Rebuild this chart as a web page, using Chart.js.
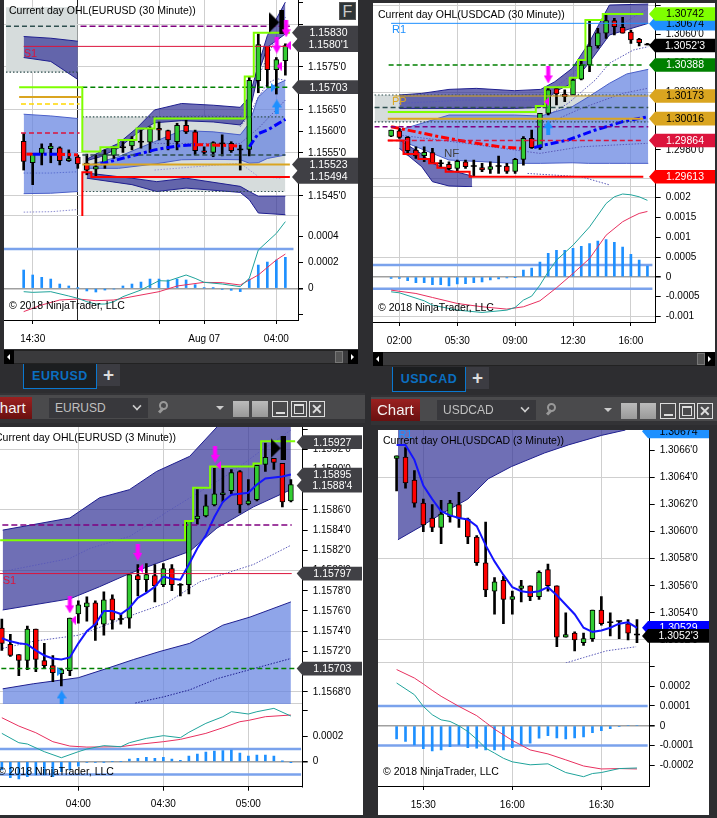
<!DOCTYPE html>
<html><head><meta charset="utf-8">
<script src="https://cdn.jsdelivr.net/npm/chart.js@4"></script>
<style>
html,body{margin:0;padding:0;background:#2d2d30;width:717px;height:818px;overflow:hidden;font-family:"Liberation Sans",Arial,sans-serif}
canvas{position:absolute;display:block}
.b{position:absolute;box-sizing:border-box}
</style></head><body>
<script>
/* ---------- EURUSD 30 minute ---------- */
const eur30Open=[1.15577,1.15527,1.15549,1.1556,1.15562,1.15532,1.1554,1.15526,1.15512,1.15526,1.15544,1.15563,1.15566,1.15576,1.15575,1.15607,1.15602,1.15576,1.15614,1.15599,1.15555,1.15551,1.15572,1.15572,1.15558,1.15558,1.15718,1.15798,1.15744,1.15765];
const eur30Close=[1.1553,1.15549,1.15561,1.15566,1.15532,1.15537,1.15524,1.1551,1.15518,1.15547,1.15561,1.15563,1.15578,1.15576,1.15606,1.15603,1.1558,1.15614,1.15599,1.15555,1.15551,1.15574,1.15572,1.15555,1.15558,1.15719,1.15802,1.15744,1.15767,1.158];
const eur30High=[1.15595,1.15549,1.15571,1.15572,1.15564,1.15557,1.15545,1.15547,1.15545,1.15557,1.15564,1.15576,1.15588,1.15603,1.15611,1.15622,1.15603,1.15619,1.15626,1.15603,1.15564,1.15576,1.15592,1.15576,1.15568,1.15727,1.15827,1.15798,1.15772,1.15804];
const eur30Low=[1.1551,1.15476,1.15522,1.15527,1.15522,1.1553,1.15514,1.15499,1.15496,1.15514,1.15537,1.15551,1.15557,1.15561,1.15551,1.1558,1.15557,1.15557,1.15595,1.15545,1.15547,1.15541,1.15543,1.15551,1.1551,1.15543,1.1569,1.15704,1.15687,1.15731];
const eur30BandLX=[0,3,6];
const eur30DarkLTop=[1.15821,1.15817,1.1581], eur30DarkLBot=[1.15772,1.15763,1.15721];
const eur30LightLTop=[1.1564,1.15636,1.1563], eur30LightLBot=[1.15455,1.15456,1.1546];
const eur30LightLMid=[1.15503,1.15503,1.15506], eur30LowLMid=[1.15412,1.15413,1.15418];
const eur30UpX=[7,8.5,10.5,12.5,14.5,17.5,21,24,25,26,27,29];
const eur30UpTop=[1.15535,1.15553,1.15572,1.15607,1.1565,1.15665,1.15661,1.15656,1.1568,1.15754,1.15823,1.15901];
const eur30UpBot=[1.15532,1.15541,1.15561,1.15595,1.1562,1.15625,1.15622,1.15615,1.15642,1.15735,1.15796,1.15827];
const eur30LightX=[7,10.5,14.5,17.5,21,24,25,26,27,29];
const eur30LightTop=[1.1552,1.15541,1.15576,1.15602,1.15599,1.15592,1.15619,1.1568,1.157,1.15719];
const eur30LightBot=[1.15514,1.15514,1.15524,1.15534,1.15535,1.15534,1.15526,1.15527,1.15537,1.15545];
const eur30LowX=[7,12,14.75,18,24,25,26,29];
const eur30LowTop=[1.15503,1.15491,1.15483,1.15491,1.15472,1.1546,1.15449,1.15449];
const eur30LowBot=[1.15491,1.15476,1.1546,1.15468,1.15458,1.15441,1.1541,1.15406];
const eur30DotAX=[14.75,21,24,26,29], eur30DotAY=[1.15634,1.15638,1.15634,1.15727,1.15866];
const eur30DotBX=[24,25,26,27,28,29], eur30DotBY=[1.15611,1.15638,1.1568,1.15711,1.15723,1.15719];
const eur30DotCX=[14.5,24,26,29], eur30DotCY=[1.15572,1.15572,1.15607,1.15673];
const eur30DotDX=[14.5,24,26,28.5], eur30DotDY=[1.1551,1.15526,1.15495,1.15491];
const eur30MidBlue1X=[1,3.7], eur30MidBlue1Y=[1.15547,1.15547];
const eur30MidRed1X=[0.3,1], eur30MidRed1Y=[1.15547,1.15547];
const eur30MidRed2X=[3.7,6], eur30MidRed2Y=[1.15547,1.15545];
const eur30MidBlue2X=[8.5,10,12,14.5,17,19], eur30MidBlue2Y=[1.15524,1.15532,1.15543,1.15557,1.15566,1.15569];
const eur30MidRed3X=[19,21.5,24], eur30MidRed3Y=[1.15569,1.15568,1.15566];
const eur30MidBlue3X=[25,26,27,29], eur30MidBlue3Y=[1.15564,1.15595,1.15603,1.15628];
const eur30LimeX=[-0.5,6.5,8.5,10.5,12.5,14.5,24.5,25.5,29.5], eur30LimeY=[1.15703,1.15553,1.15563,1.1558,1.15607,1.1563,1.15728,1.1583,1.1583];
const eur30RedX=[6.5,6.5,7.5,29.5], eur30RedY=[1.154,1.15505,1.15494,1.15494];
const eur30MacdX=[0,1,3,5,6,7,8,9,10,11,13,15,16,18,19,20,22,24,25,26,28,29];
const eur30Macd=[-0.0000255,-0.0000306,-0.0000255,-0.0000586,-0.0000764,-0.000102,-0.00012,-0.00012,-0.000102,-0.0000637,-0.0000127,0.0000586,0.000056,0.000102,0.0000764,0.0000459,0.0000331,0.0000127,0.0000764,0.000293,0.00042,0.00051];
const eur30SignalX=[0,2,4,6,8,10,12,15,17,20,22,24,26,28,29];
const eur30Signal=[-0.000178,-0.000127,-0.0000892,-0.0000815,-0.0000943,-0.0000892,-0.0000637,-0.0000255,0.0000178,0.0000459,0.0000433,0.0000255,0.000102,0.000217,0.000262];
const eur30Hist=[0.00014,0.000102,0.000084,0.000071,0.000033,0.000018,0.000001,-0.00002,-0.000028,-0.000013,-0.000005,0.000018,0.000033,0.000048,0.000071,0.000071,0.000064,0.000071,0.000064,0.000028,0.000003,0.000001,-0.000008,-0.000015,-0.000025,0.000071,0.000178,0.000201,0.000217,0.000237];
const eur30TagValues=[1.1583,1.15801,1.15703,1.15523,1.15494];
const eur30TagLabels=["1.15830","1.1580'1","1.15703","1.15523","1.15494"];
const eur30XTicks=[1,6,15,20,28], eur30XLabels=["14:30","","","Aug 07","04:00"];

/* ---------- USDCAD 30 minute ---------- */
const cad30Open=[1.29895,1.29932,1.29886,1.29798,1.29759,1.2978,1.29706,1.29699,1.29671,1.29717,1.29687,1.29676,1.29664,1.29687,1.29687,1.2965,1.29734,1.29879,1.29814,1.30053,1.30224,1.30187,1.3018,1.30289,1.30388,1.3052,1.30608,1.30696,1.30649,1.30617,1.30566,1.30531];
const cad30Close=[1.29937,1.29886,1.29794,1.29757,1.29782,1.2971,1.29706,1.29669,1.2972,1.29683,1.29687,1.2966,1.29683,1.29687,1.2965,1.29734,1.29879,1.29814,1.30053,1.30215,1.30187,1.30168,1.30284,1.30388,1.3052,1.30612,1.30696,1.30654,1.30608,1.30562,1.30543,1.30531];
const cad30High=[1.29937,1.29949,1.29891,1.29821,1.29821,1.2981,1.29729,1.29717,1.29729,1.29729,1.29729,1.29706,1.29717,1.29757,1.29706,1.29741,1.29891,1.29937,1.30053,1.30233,1.30226,1.30215,1.30296,1.30423,1.30696,1.30643,1.30747,1.30712,1.30719,1.30631,1.30573,1.30538];
const cad30Low=[1.29891,1.29879,1.29764,1.29741,1.29717,1.29706,1.29678,1.2966,1.29648,1.29671,1.29613,1.29648,1.29636,1.29636,1.29636,1.29636,1.29694,1.2981,1.29803,1.30041,1.30111,1.30134,1.3018,1.30284,1.30342,1.30504,1.30573,1.30596,1.30608,1.30538,1.3052,1.30527];
const cad30UpX=[1,3.7,7,10.3,14.9,18.1,19.8,21.9,23.9,26.4,31.1];
const cad30UpTop=[1.3018,1.30191,1.30219,1.30226,1.3021,1.30219,1.30272,1.30365,1.30538,1.30804,1.30811];
const cad30UpBot=[1.30087,1.30087,1.30087,1.30087,1.30087,1.30094,1.30203,1.30261,1.304,1.30596,1.30677];
const cad30LightTopX=[1,7,14.9,18.1,21.9,23.9,26.4,28.5,31.1];
const cad30LightTop=[1.29937,1.30041,1.30041,1.30034,1.30099,1.30168,1.30261,1.30326,1.30358];
const cad30LightBot=[1.29868,1.29729,1.29706,1.29706,1.2971,1.29706,1.29706,1.29706,1.29706];
const cad30LowX=[1,3.7,5,7,9.8];
const cad30LowTop=[1.29868,1.29771,1.29706,1.2966,1.29618];
const cad30LowBot=[1.2981,1.29683,1.29579,1.29549,1.29544];
const cad30DotAX=[1,9,18,22,26.4,31.1], cad30DotAY=[1.30122,1.30145,1.30145,1.3033,1.3062,1.3078];
const cad30DotBX=[19,21.4,24.7,26.4,29.3,31.1], cad30DotBY=[1.30041,1.30122,1.30284,1.304,1.30492,1.30515];
const cad30DotCX=[1,9,18,23,31], cad30DotCY=[1.29902,1.29845,1.29775,1.29821,1.29845];
const cad30DotDX=[18.5,23,28,31], cad30DotDY=[1.29972,1.30087,1.30191,1.30226];
const cad30DotEX=[16.5,23,26.5], cad30DotEY=[1.29636,1.29613,1.29555];
const cad30MidRedX=[0,2.9,5.8,9.1,13.2,15.7], cad30MidRedY=[1.2996,1.29926,1.29891,1.29856,1.29821,1.2981];
const cad30MidBlueX=[17.3,18.1,21.4,24.7,28,31.1], cad30MidBlueY=[1.29815,1.29828,1.29868,1.29937,1.29995,1.3003];
const cad30LimeX=[-0.4,17.5,18.6,21.6,22.6,23.5,25.6,30.5], cad30LimeY=[1.30062,1.30103,1.30233,1.303,1.30423,1.307,1.30742,1.30742];
const cad30RedX=[-0.4,1.5,3.3,4.6,5.6,6.6,9.5,30.5], cad30RedY=[1.29864,1.29771,1.29736,1.29706,1.29676,1.29648,1.29613,1.29613];
const cad30MacdX=[0,1,4,5,8,11,14,15,16,17,18,19,20,22,24,26,27,28,29,30,31];
const cad30Macd=[-0.000378,-0.000403,-0.000605,-0.000714,-0.00084,-0.000899,-0.00084,-0.000773,-0.000588,-0.000487,-0.00021,0.000126,0.00042,0.000798,0.00126,0.00185,0.00202,0.00209,0.00207,0.00202,0.00193];
const cad30SignalX=[0,3,5,8,11,14,16,18,20,22,24,26,28,29,30,31];
const cad30Signal=[-0.000336,-0.00042,-0.000521,-0.000672,-0.000756,-0.000815,-0.000756,-0.000605,-0.000277,0.000084,0.000462,0.00105,0.00139,0.0015,0.0016,0.00165];
const cad30Hist=[-0.000042,-0.000042,-0.0001,-0.00015,-0.00015,-0.0002,-0.0002,-0.00023,-0.00018,-0.00017,-0.00015,-0.00013,-0.00008,-0.00005,-0.00003,-0.00001,0.00017,0.00022,0.00037,0.00059,0.00067,0.00067,0.00072,0.00077,0.00084,0.0009,0.00094,0.00087,0.00075,0.00057,0.00042,0.00027];
const cad30TagValues=[1.30674,1.30742,1.30388,1.30173,1.30016,1.29864,1.29613,1.30523];
const cad30TagLabels=["1.30674","1.30742","1.30388","1.30173","1.30016","1.29864","1.29613","1.3052'3"];
const cad30XTicks=[1,8,15,22,29], cad30XLabels=["02:00","05:30","09:00","12:30","16:00"];

/* ---------- EURUSD 3 minute ---------- */
const eur3Open=[1.15743,1.15727,1.15717,1.15711,1.15742,1.15711,1.15706,1.15698,1.15701,1.15757,1.15764,1.15768,1.15747,1.15772,1.15752,1.15753,1.15795,1.15791,1.15795,1.15786,1.15802,1.15786,1.15786,1.15851,1.15854,1.15865,1.15875,1.15879,1.15898,1.15866,1.1587,1.15905,1.15911,1.15906,1.15869];
const eur3Close=[1.15728,1.15716,1.15711,1.15742,1.15712,1.15706,1.15699,1.15702,1.15753,1.15766,1.15768,1.15746,1.15771,1.15751,1.15752,1.15796,1.15791,1.15796,1.15785,1.15802,1.15786,1.15786,1.15849,1.15854,1.15864,1.15876,1.15877,1.15897,1.15865,1.15869,1.15904,1.15912,1.15907,1.15868,1.15885];
const eur3High=[1.15752,1.15737,1.15717,1.15745,1.15742,1.15728,1.15716,1.15703,1.15753,1.1577,1.15774,1.1577,1.15779,1.15776,1.15757,1.15796,1.15806,1.15807,1.15806,1.15807,1.15806,1.15787,1.15849,1.1588,1.15875,1.15901,1.15901,1.159,1.15899,1.1589,1.15904,1.15926,1.15911,1.15906,1.1589];
const eur3Low=[1.15721,1.15715,1.15696,1.15702,1.157,1.15703,1.1569,1.15686,1.15696,1.15748,1.1575,1.15731,1.15736,1.15742,1.15747,1.15743,1.15775,1.15779,1.15769,1.15784,1.1578,1.15775,1.15777,1.15846,1.15853,1.15864,1.15868,1.15876,1.15857,1.15865,1.15869,1.15898,1.159,1.15863,1.15868];
const eur3BlueMA=[1.15733,1.1573,1.15728,1.15727,1.15721,1.15716,1.15713,1.15712,1.15714,1.15728,1.1574,1.15747,1.1576,1.1576,1.15757,1.15763,1.15773,1.15778,1.15784,1.15794,1.15792,1.15791,1.15806,1.15822,1.15835,1.15853,1.15868,1.15875,1.15876,1.15877,1.15885,1.15891,1.15892,1.15893,1.15895];
const eur3DarkX=[0.1,8,11.5,15,18.2,22.1,25.3,29.6,34];
const eur3DarkTop=[1.1584,1.15852,1.15872,1.1588,1.15898,1.15913,1.15942,1.1598,1.16];
const eur3DarkBot=[1.15761,1.15772,1.15784,1.15797,1.15807,1.15819,1.15842,1.15863,1.1588];
const eur3DotAX=[0.1,8,10.4,15.1,19.8,23.3,27.2,30.4,34], eur3DotAY=[1.15799,1.15812,1.15822,1.15834,1.1586,1.15878,1.15898,1.15918,1.15939];
const eur3DotBX=[0.1,3.7,9,16,19.4,23.3,29.6,34], eur3DotBY=[1.15723,1.1573,1.15736,1.15758,1.15768,1.15789,1.15806,1.15825];
const eur3LightX=[0.1,3.7,9,12.3,15.5,18.6,22.1,26,29.2,34];
const eur3LightTop=[1.15683,1.15688,1.15694,1.15703,1.15712,1.1572,1.15728,1.15746,1.15754,1.15769];
const eur3LightBot=[1.1566,1.1566,1.1566,1.1566,1.1566,1.1566,1.1566,1.1566,1.1566,1.1566];
const eur3DotCX=[15.7,19,22.1,25.3,29.2,34], eur3DotCY=[1.15669,1.15675,1.15682,1.15693,1.15702,1.15713];
const eur3LimeX=[-0.2,21.55,22.5,24.5,29.6,30.5,34.5], eur3LimeY=[1.1583,1.15849,1.15882,1.15903,1.15906,1.15928,1.15928];
const eur3MacdX=[0,2,3,5,7,9,10,12,14,15,17,19,21,22,24,26,27,29,30,32,34];
const eur3Macd=[0.000221,0.000148,0.000138,0.000078,0.000031,0.000078,0.000099,0.000125,0.000117,0.000148,0.000182,0.000203,0.000187,0.000229,0.000299,0.000351,0.00039,0.000372,0.00039,0.000416,0.000356];
const eur3SignalX=[0,2,4,6,8,10,14,16,19,21,24,26,28,29,31,34];
const eur3Signal=[0.000343,0.000278,0.000226,0.000156,0.000122,0.000114,0.000117,0.000135,0.000156,0.000174,0.000221,0.000265,0.000312,0.000322,0.000351,0.000364];
const eur3Hist=[-0.000065,-0.000125,-0.000135,-0.000117,-0.000104,-0.000104,-0.000117,-0.000078,-0.000065,-0.000034,-0.000005,-0.000005,-0.000003,0,0,0.000021,0.000026,0.000034,0.000026,0.000034,0.000021,0.00001,0.000044,0.00006,0.000075,0.000083,0.000086,0.000091,0.000068,0.000044,0.000052,0.000052,0.000044,0.000003,-0.000008];
const eur3TagValues=[1.15927,1.15895,1.15884,1.15797,1.15703];
const eur3TagLabels=["1.15927","1.15895","1.1588'4","1.15797","1.15703"];
const eur3XTicks=[9,19,29], eur3XLabels=["04:00","04:30","05:00"];

/* ---------- USDCAD 3 minute ---------- */
const cad3Open=[1.30654,1.30655,1.30638,1.30621,1.3061,1.30603,1.30611,1.3062,1.30609,1.30596,1.30577,1.30556,1.30564,1.3055,1.30558,1.3056,1.30552,1.30572,1.3056,1.30522,1.30525,1.30518,1.30521,1.30542,1.30533,1.30534,1.30532,1.30524];
const cad3Close=[1.30656,1.30636,1.30621,1.30605,1.30603,1.30613,1.30621,1.3061,1.30596,1.30577,1.30557,1.30563,1.3055,1.30552,1.3056,1.30552,1.3057,1.3056,1.30522,1.30524,1.3052,1.30521,1.30542,1.30532,1.30533,1.30534,1.30525,1.30524];
const cad3High=[1.30656,1.30662,1.30645,1.30624,1.3062,1.30623,1.30623,1.30629,1.3061,1.30597,1.30607,1.30566,1.30567,1.30556,1.30564,1.3056,1.30571,1.30576,1.3056,1.3054,1.30526,1.30525,1.30542,1.30552,1.3054,1.30534,1.30535,1.30535];
const cad3Low=[1.3063,1.30632,1.30618,1.306,1.306,1.30591,1.30607,1.30603,1.30591,1.30575,1.30552,1.30539,1.30532,1.30539,1.30548,1.30549,1.3055,1.30556,1.30515,1.30522,1.30512,1.30516,1.30519,1.30531,1.30523,1.30521,1.3052,1.30518];
const cad3BlueMA=[1.30664,1.30664,1.30653,1.30634,1.30624,1.30615,1.30612,1.3061,1.30609,1.30604,1.3059,1.30578,1.30568,1.30559,1.30556,1.30555,1.30556,1.30559,1.30553,1.30546,1.30539,1.30529,1.30526,1.30527,1.30529,1.30532,1.30533,1.30529];
const cad3DarkX=[0.15,2.8,5,8,10.3,12.9,16.6,19.3,23,25.7];
const cad3DarkTop=[1.3069,1.3069,1.3069,1.3069,1.3069,1.3069,1.3069,1.3069,1.3069,1.3069];
const cad3DarkBot=[1.30594,1.30604,1.30613,1.30624,1.30639,1.30648,1.30658,1.30664,1.30671,1.30675];
const cad3DotX=[19,21,23.6,26.9], cad3DotY=[1.30503,1.30507,1.30512,1.30515];
const cad3MacdX=[0,2,3,4,5,6,7,8,9,10,11,12,13,15,17,19,21,22,23,25,27];
const cad3Macd=[0.000216,0.000157,0.000098,0.000056,0.00003,0.000022,0,-0.000029,-0.000068,-0.000113,-0.000138,-0.000164,-0.000182,-0.000197,-0.000192,-0.000236,-0.000257,-0.000241,-0.000236,-0.000216,-0.000213];
const cad3SignalX=[0,2,3,4,5,7,9,10,11,13,15,17,19,21,23,25,27];
const cad3Signal=[0.000284,0.000241,0.000211,0.000179,0.000149,0.000098,0.000051,0.000017,-0.000017,-0.000074,-0.000122,-0.000142,-0.000172,-0.000203,-0.000218,-0.000216,-0.000218];
const cad3Hist=[-0.000066,-0.000079,-0.000096,-0.000116,-0.000127,-0.000122,-0.000105,-0.000096,-0.00011,-0.000113,-0.000122,-0.000122,-0.000122,-0.00011,-0.000096,-0.000088,-0.000062,-0.00005,-0.000061,-0.000066,-0.000061,-0.000056,-0.000035,-0.000025,-0.000015,-0.000005,0,0];
const cad3TagValues=[1.30674,1.30529,1.30523];
const cad3TagLabels=["1.30674","1.30529","1.3052'3"];
const cad3XTicks=[3,13,23], cad3XLabels=["15:30","16:00","16:30"];

/* ---------- helpers ---------- */
const FONT='"Liberation Sans",Arial,sans-serif';
const C={dark:'rgba(50,50,150,.7)',light:'rgba(100,130,225,.72)',edge:'#1f1f8f',dot:'#5a5ab8',grey:'#d6dcdc',slate:'#2f4f4f',lime:'#7fff00',gold:'#daa520',crim:'#dc143c',green:'#008000',purple:'#800080',blue:'#0000ff',red:'#ff0000'};
const pts=(x,y)=>x.map((v,i)=>({x:v,y:y[i]}));
const line=(x,y,o)=>Object.assign({type:'line',data:pts(x,y),pointRadius:0,borderWidth:1,fill:false,borderColor:'#000',tension:0},o||{});
const band=(x,t,b,fillC,edge)=>[
 line(x,t,{fill:'+1',backgroundColor:fillC,borderColor:edge||'transparent'}),
 line(x,b,{borderColor:edge||'transparent'})];
const dotted=(x,y,col)=>line(x,y,{borderColor:col||C.dot,borderDash:[1.5,1.5],borderWidth:1});
const level=(a,b,y,col,w,dash)=>line([a,b],[y,y],{borderColor:col,borderWidth:w||1,borderDash:dash||[]});
function candles(o,h,l,c){
  const idx=o.map((_,i)=>i), real=idx.filter(i=>o[i]!==c[i]), doji=idx.filter(i=>o[i]===c[i]);
  return [
   {type:'bar',grouped:false,barThickness:2,backgroundColor:'#000',data:idx.map(i=>({x:i,y:[l[i],h[i]]}))},
   {type:'bar',grouped:false,barThickness:5,borderWidth:1,borderColor:'#000',borderSkipped:false,
    backgroundColor:real.map(i=>c[i]>o[i]?'#32cd32':'#ff0000'),data:real.map(i=>({x:i,y:[o[i],c[i]]}))},
   {type:'line',showLine:false,pointStyle:'line',pointRadius:3,pointBorderWidth:1.5,pointBorderColor:'#000',data:doji.map(i=>({x:i,y:o[i]}))}
  ];
}
function mk(w,h,draw){const c=document.createElement('canvas');c.width=w;c.height=h;draw(c.getContext('2d'),w,h);return c;}
const arrowDown=mk(9,17,(g,w,h)=>{g.fillStyle='#ff00ff';g.fillRect(2.5,0,4,10);g.beginPath();g.moveTo(0,9);g.lineTo(9,9);g.lineTo(4.5,17);g.fill();});
const arrowUp=mk(10,15,(g,w,h)=>{g.fillStyle='#1e90ff';g.fillRect(3,7,4,8);g.beginPath();g.moveTo(0,8);g.lineTo(10,8);g.lineTo(5,0);g.fill();});
const triLeft=mk(5,9,(g)=>{g.fillStyle='#ff00ff';g.beginPath();g.moveTo(5,0);g.lineTo(5,9);g.lineTo(0,4.5);g.fill();});
const triRight=mk(5,9,(g)=>{g.fillStyle='#1e90ff';g.beginPath();g.moveTo(0,0);g.lineTo(0,9);g.lineTo(5,4.5);g.fill();});
const bowtie=mk(15,24,(g)=>{g.fillStyle='#000';g.beginPath();g.moveTo(0,2);g.lineTo(0,22);g.lineTo(10,12);g.fill();g.fillRect(10,0,5,24);});
const mark=(x,y,img)=>({type:'line',showLine:false,pointStyle:img,pointRadius:5,data:pts(x,y)});

function box(x,y,w,h,css,text){const d=document.createElement('div');d.className='b';
 d.style.cssText+=`left:${x}px;top:${y}px;width:${w}px;height:${h}px;`+(css||'');if(text!==undefined)d.textContent=text;document.body.appendChild(d);return d;}
function white(x,y,w,h){box(x,y,w,h,'background:#fff;');}
white(4,0,354,349);white(373,3,342,349);white(0,427,363,388);white(378,430,331,385);

const noPad=a=>{a.paddingTop=0;a.paddingBottom=0;a.paddingLeft=0;a.paddingRight=0;};
function chart(p){
  const c=document.createElement('canvas');c.width=p.w;c.height=p.h;c.style.left=p.left+'px';c.style.top=p.top+'px';
  c.style.width=p.w+'px';c.style.height=p.h+'px';
  document.body.appendChild(c);
  p.ds.forEach((d,i)=>d.order=p.ds.length-i);
  const near=(arr,v)=>(arr||[]).some(m=>Math.abs(m-v)<1e-9);
  const overlay={id:'overlay',afterDraw(ch){
    const g=ch.ctx,sx=ch.scales.x,sy=ch.scales.y;g.save();
    (p.texts||[]).forEach(t=>{g.font=(t.size||10)+'px '+FONT;g.fillStyle=t.color||'#000';g.textAlign='left';g.textBaseline='middle';
      const px=t.px!==undefined?t.px:sx.getPixelForValue(t.x),py=t.py!==undefined?t.py:sy.getPixelForValue(t.y);g.fillText(t.text,px,py);});
    (p.tags||[]).forEach(t=>{const y=sy.getPixelForValue(t.v),hh=t.h||6.8,x0=p.tagTip,x1=p.tagRight,x2=x0+6;
      g.fillStyle=t.bg;g.beginPath();g.moveTo(x0,y);g.lineTo(x2,y-hh);g.lineTo(x1,y-hh);g.lineTo(x1,y+hh);g.lineTo(x2,y+hh);g.closePath();g.fill();
      g.font='10.5px '+FONT;g.fillStyle=t.fg;g.textAlign='center';g.textBaseline='middle';g.fillText(t.label,(x2+x1)/2,y+0.5);});
    g.restore();}};
  new Chart(c,{type:'bar',data:{datasets:p.ds},plugins:[overlay],options:{
    responsive:false,animation:false,devicePixelRatio:1,events:[],
    layout:{padding:0,autoPadding:false},
    plugins:{legend:{display:false},tooltip:{enabled:false},title:{display:false}},
    scales:{
      x:{type:'linear',offset:false,position:'bottom',min:p.xMin,max:p.xMax,
        afterBuildTicks:a=>{a.ticks=p.xTicks.map(v=>({value:v}));},
        afterFit:a=>{a.height=p.xH;noPad(a);},
        border:{display:true,color:p.xBorder,width:p.xBorderW||1},
        grid:{offset:false,drawTicks:!!p.xLabels,tickLength:4,
          color:x=>x.tick&&x.tick.value===p.session?'#222':'#cfcfcf',lineWidth:1,
          tickColor:x=>x.tick&&x.tick.value===p.session?'transparent':'#000'},
        ticks:{display:!!p.xLabels,autoSkip:false,maxRotation:0,padding:p.xPad||7,color:'#000',font:{family:FONT,size:10},
          callback:(v,i)=>p.xLabels?p.xLabels[i]:''}},
      y:{type:'linear',position:'right',min:p.yMin,max:p.yMax,beginAtZero:false,
        afterBuildTicks:a=>{a.ticks=p.yTicks.map(v=>({value:v}));},
        afterFit:a=>{a.width=p.yW;noPad(a);},
        border:{display:true,color:'#000',width:1},
        grid:{tickLength:5,tickColor:'#000',
          color:x=>x.tick&&p.zero&&x.tick.value===0?'#a0a0a0':(x.tick&&near(p.yMajor,x.tick.value)?'#cfcfcf':'transparent'),
          lineWidth:x=>x.tick&&p.zero&&x.tick.value===0?1.5:1},
        ticks:{autoSkip:false,padding:5,color:'#000',font:{family:FONT,size:10},
          callback:v=>near(p.yHideLabel,v)?'':p.fmt(v)}}
    }}});
}
const priceFmt=v=>v.toFixed(4)+"'0";
const macdFmt=v=>String(v);
const tagSet=(vals,labels,styles)=>vals.map((v,i)=>Object.assign({v,label:labels[i]},styles[i]));
const GREY={bg:'#404045',fg:'#fff'};
function macdDs(xLo,xHi,hlines,mx,my,sx,sy,hist){
  return [
   ...hlines.map(v=>line([xLo,xHi],[v,v],{borderColor:'#7aa2ec',borderWidth:2.5})),
   {type:'bar',grouped:false,barThickness:2,backgroundColor:'#1e90ff',data:hist.map((v,i)=>({x:i,y:v}))},
   line(sx,sy,{borderColor:'#e8305f'}),
   line(mx,my,{borderColor:'#1fa39b'})
  ];
}

/* ---------- EURUSD 30 ---------- */
chart({left:4,top:0,w:354,h:216,xMin:-2.18,xMax:30.4,yMin:1.15403,yMax:1.15906,xH:0,yW:60,xBorder:'#cfcfcf',xBorderW:2,session:6,
 xTicks:eur30XTicks,yTicks:[1.1545,1.155,1.1555,1.156,1.1565,1.157,1.1575,1.158,1.1585,1.159],yMajor:[1.1545,1.1555,1.1565,1.1575,1.1585],yHideLabel:[1.159,1.1585],fmt:priceFmt,
 tagTip:288,tagRight:355,
 tags:tagSet(eur30TagValues,eur30TagLabels,[GREY,GREY,GREY,GREY,GREY]),
 texts:[{text:'Current day OHL(EURUSD (30 Minute))',px:5,py:11,size:10.5},{text:'S1',x:0,y:1.15781,color:C.crim,size:11}],
 ds:[
  ...band([-1.96,6],[1.15889,1.15889],[1.15738,1.15738],C.grey),
  ...band([6.5,29],[1.15634,1.15634],[1.1546,1.1546],C.grey),
  ...band(eur30BandLX,eur30LightLTop,eur30LightLBot,C.light,'#4a5fc8'),
  ...band(eur30BandLX,eur30DarkLTop,eur30DarkLBot,C.dark,C.edge),
  dotted(eur30BandLX,eur30LightLMid,'#5a6fd0'),dotted(eur30BandLX,eur30LowLMid,'#8a8ad0'),
  ...band(eur30LightX,eur30LightTop,eur30LightBot,C.light,'#4a5fc8'),
  ...band(eur30UpX,eur30UpTop,eur30UpBot,C.dark,C.edge),
  ...band(eur30LowX,eur30LowTop,eur30LowBot,C.dark,C.edge),
  dotted(eur30DotAX,eur30DotAY),dotted(eur30DotBX,eur30DotBY),dotted(eur30DotCX,eur30DotCY),dotted(eur30DotDX,eur30DotDY,'#9a9ad8'),
  ...candles(eur30Open,eur30High,eur30Low,eur30Close),
  line(eur30MidRed1X,eur30MidRed1Y,{borderColor:C.red,borderWidth:3,borderDash:[8,3,3,3]}),
  line(eur30MidBlue1X,eur30MidBlue1Y,{borderColor:C.blue,borderWidth:3,borderDash:[8,3,3,3]}),
  line(eur30MidRed2X,eur30MidRed2Y,{borderColor:C.red,borderWidth:3,borderDash:[8,3,3,3]}),
  line(eur30MidBlue2X,eur30MidBlue2Y,{borderColor:C.blue,borderWidth:3,borderDash:[8,3,3,3]}),
  line(eur30MidRed3X,eur30MidRed3Y,{borderColor:C.red,borderWidth:3,borderDash:[8,3,3,3]}),
  line(eur30MidBlue3X,eur30MidBlue3Y,{borderColor:C.blue,borderWidth:3,borderDash:[8,3,3,3]}),
  level(-1.96,6,1.15845,C.slate,1.5,[5,3]),level(6.3,29.5,1.15845,C.purple,1.5,[6,3]),
  level(-1.96,6,1.15738,C.slate,1.2,[1.5,2]),level(0,29.5,1.15798,C.crim,1),
  level(-0.3,6.2,1.15664,'#ffd700',1.5,[5,3]),level(-0.5,6.4,1.1568,C.gold,2),level(-0.3,6.2,1.15596,C.crim,1.5,[5,3]),
  level(6.5,29.5,1.15703,C.green,1.5,[5,3]),level(6.5,29,1.15634,C.slate,1.2,[1.5,2]),level(6.5,29,1.15545,C.slate,1.5,[5,3]),level(6.5,29,1.1546,C.slate,1.2,[1.5,2]),
  level(6.5,29.5,1.15523,C.gold,2),
  line(eur30RedX,eur30RedY,{borderColor:C.red,borderWidth:2,stepped:'before'}),
  line(eur30LimeX,eur30LimeY,{borderColor:C.lime,borderWidth:2,stepped:'before'}),
  mark([28.05],[1.15854],bowtie),mark([29.08,28.05],[1.15839,1.15801],arrowDown),mark([29.3,28.3],[1.158,1.15752],triLeft),mark([28.05],[1.15657],arrowUp),mark([27.7],[1.15702],triRight)
 ]});
chart({left:4,top:216,w:354,h:133,xMin:-2.18,xMax:30.4,yMin:-0.000242,yMax:0.000553,xH:29,yW:60,xBorder:'#000',session:6,xLabels:eur30XLabels,xPad:9,
 xTicks:eur30XTicks,yTicks:[-0.0002,0,0.0002,0.0004],yMajor:[],yHideLabel:[-0.0002],zero:true,fmt:macdFmt,
 texts:[{text:'\u00a9 2018 NinjaTrader, LLC',px:5,py:90,size:10.5}],
 ds:macdDs(-2.18,29.9,[0.0003],eur30MacdX,eur30Macd,eur30SignalX,eur30Signal,eur30Hist)});

/* ---------- USDCAD 30 ---------- */
chart({left:373,top:3,w:342,h:184,xMin:-2.19,xMax:32.0,yMin:1.29542,yMax:1.30818,xH:0,yW:59.3,xBorder:'#cfcfcf',xBorderW:2,
 xTicks:cad30XTicks,yTicks:[1.296,1.298,1.3,1.302,1.304,1.306,1.308],yMajor:[1.296,1.302,1.308],yHideLabel:[1.308],fmt:priceFmt,
 tagTip:276,tagRight:342,
 tags:tagSet(cad30TagValues,cad30TagLabels,[{bg:'#1e90ff',fg:'#000'},{bg:C.lime,fg:'#000'},{bg:C.green,fg:'#fff'},{bg:C.gold,fg:'#000'},{bg:C.gold,fg:'#000'},{bg:C.crim,fg:'#fff'},{bg:C.red,fg:'#fff'},{bg:'#000',fg:'#fff'}]),
 texts:[{text:'Current day OHL(USDCAD (30 Minute))',px:5,py:12,size:10.5},{text:'R1',x:0.1,y:1.30631,color:'#1e90ff',size:11},{text:'PP',x:0.1,y:1.30134,color:C.gold,size:11},{text:'NF',x:6.4,y:1.29771,color:'#444',size:11.5}],
 ds:[
  ...band([-2,31.1],[1.3018,1.3018],[1.29993,1.29993],C.grey),
  ...band(cad30LightTopX,cad30LightTop,cad30LightBot,C.light,'#4a5fc8'),
  ...band(cad30UpX,cad30UpTop,cad30UpBot,C.dark,C.edge),
  ...band(cad30LowX,cad30LowTop,cad30LowBot,C.dark,C.edge),
  dotted(cad30DotAX,cad30DotAY),dotted(cad30DotBX,cad30DotBY),dotted(cad30DotCX,cad30DotCY),dotted(cad30DotDX,cad30DotDY),dotted(cad30DotEX,cad30DotEY),
  ...candles(cad30Open,cad30High,cad30Low,cad30Close),
  line(cad30MidRedX,cad30MidRedY,{borderColor:C.red,borderWidth:3,borderDash:[8,3,3,3]}),
  line(cad30MidBlueX,cad30MidBlueY,{borderColor:C.blue,borderWidth:3,borderDash:[8,3,3,3]}),
  level(0,31.1,1.30677,'#1e90ff',1),level(-0.3,30.5,1.30388,C.green,1.5,[5,3]),
  level(-2,31.1,1.3018,C.slate,1.2,[1.5,2]),level(0.3,31.1,1.30173,C.gold,1),level(-2,31.1,1.30093,C.slate,1.5,[5,3]),
  level(-0.4,30.5,1.30016,C.gold,2),level(-2,31.1,1.29993,C.slate,1.2,[1.5,2]),level(-2,31.1,1.2996,C.purple,1.5,[5,3]),level(-0.4,30.5,1.29864,C.crim,1.5,[5,3]),
  line(cad30RedX,cad30RedY,{borderColor:C.red,borderWidth:2,stepped:'before'}),
  line(cad30LimeX,cad30LimeY,{borderColor:C.lime,borderWidth:2,stepped:'before'}),
  mark([19],[1.30319],arrowDown),mark([19],[1.29953],arrowUp),mark([18.8],[1.30134],triLeft)
 ]});
chart({left:373,top:187,w:342,h:165,xMin:-2.19,xMax:32.0,yMin:-0.00114,yMax:0.002267,xH:30,yW:59.3,xBorder:'#000',xLabels:cad30XLabels,xPad:9,
 xTicks:cad30XTicks,yTicks:[-0.001,-0.0005,0,0.0005,0.001,0.0015,0.002],yMajor:[-0.001,0.0005,0.002],zero:true,fmt:macdFmt,
 texts:[{text:'\u00a9 2018 NinjaTrader, LLC',px:5,py:121,size:10.5}],
 ds:macdDs(-2.19,31.6,[0.0003,-0.0003],cad30MacdX,cad30Macd,cad30SignalX,cad30Signal,cad30Hist)});

/* ---------- EURUSD 3 ---------- */
chart({left:0,top:427,w:363,h:277,xMin:-0.216,xMax:35.39,yMin:1.15668,yMax:1.15942,xH:0,yW:60.3,xBorder:'#cfcfcf',xBorderW:2,
 xTicks:eur3XTicks,yTicks:[1.1568,1.157,1.1572,1.1574,1.1576,1.1578,1.158,1.1582,1.1584,1.1586,1.1588,1.159,1.1592,1.1594],yMajor:[1.1568,1.1574,1.158,1.1586,1.1592],yHideLabel:[1.1594],fmt:priceFmt,
 tagTip:296.7,tagRight:362,
 tags:tagSet(eur3TagValues,eur3TagLabels,[GREY,GREY,GREY,GREY,GREY]),
 texts:[{text:'Current day OHL(EURUSD (3 Minute))',px:-5,py:11.5,size:10.5},{text:'S1',x:0.1,y:1.1579,color:C.crim,size:11}],
 ds:[
  ...band(eur3LightX,eur3LightTop,eur3LightBot,C.light,C.edge),
  ...band(eur3DarkX,eur3DarkTop,eur3DarkBot,C.dark,C.edge),
  dotted(eur3DotAX,eur3DotAY),dotted(eur3DotBX,eur3DotBY),dotted(eur3DotCX,eur3DotCY,C.edge),
  ...candles(eur3Open,eur3High,eur3Low,eur3Close),
  line(eur3BlueMA.map((_,i)=>i),eur3BlueMA,{borderColor:'#1414ff',borderWidth:2}),
  level(-1,34.1,1.15845,C.purple,1.5,[6,3]),level(-1,34.1,1.15797,C.crim,1),level(-1,34.5,1.15703,C.green,1.5,[5,3]),
  line(eur3LimeX,eur3LimeY,{borderColor:C.lime,borderWidth:2,stepped:'before'}),
  mark([32.5],[1.15921],bowtie),mark([25.08,16,8],[1.15915,1.15818,1.15766],arrowDown),mark([25.5,16.3,8.4],[1.15904,1.15802,1.15751],triLeft),mark([6.8],[1.157],triRight),mark([7.04],[1.15674],arrowUp)
 ]});
chart({left:0,top:704,w:363,h:111,xMin:-0.216,xMax:35.39,yMin:-0.000195,yMax:0.00045,xH:28.3,yW:60.3,xBorder:'#000',xLabels:eur3XLabels,xPad:8,
 xTicks:eur3XTicks,yTicks:[0,0.0002,0.0004],yMajor:[],yHideLabel:[0.0004],zero:true,fmt:macdFmt,
 texts:[{text:'\u00a9 2018 NinjaTrader, LLC',px:-2,py:68,size:10.5}],
 ds:macdDs(-0.216,35.2,[0.0001,-0.0001],eur3MacdX,eur3Macd,eur3SignalX,eur3Signal,eur3Hist)});

/* ---------- USDCAD 3 ---------- */
chart({left:378,top:430,w:331,h:233,xMin:-2.09,xMax:28.43,yMin:1.30503,yMax:1.30675,xH:0,yW:59.3,xBorder:'#cfcfcf',xBorderW:2,
 xTicks:cad3XTicks,yTicks:[1.3052,1.3054,1.3056,1.3058,1.306,1.3062,1.3064,1.3066],yMajor:[1.3052,1.3058,1.3064],fmt:priceFmt,
 tagTip:264,tagRight:331,
 tags:tagSet(cad3TagValues,cad3TagLabels,[{bg:'#1e90ff',fg:'#000'},{bg:'#0000ff',fg:'#fff'},{bg:'#000',fg:'#fff'}]),
 texts:[{text:'R1',x:0.2,y:1.30671,color:'#1e90ff',size:11},{text:'Current day OHL(USDCAD (3 Minute))',px:5,py:11,size:10.5}],
 ds:[
  ...band(cad3DarkX,cad3DarkTop,cad3DarkBot,C.dark,C.edge),
  dotted(cad3DotX,cad3DotY),
  ...candles(cad3Open,cad3High,cad3Low,cad3Close),
  line(cad3BlueMA.map((_,i)=>i),cad3BlueMA,{borderColor:'#1414ff',borderWidth:2})
 ]});
chart({left:378,top:663,w:331,h:152,xMin:-2.09,xMax:28.43,yMin:-0.000304,yMax:0.000317,xH:29,yW:59.3,xBorder:'#000',xLabels:cad3XLabels,xPad:9,
 xTicks:cad3XTicks,yTicks:[-0.0002,-0.0001,0,0.0001,0.0002,0.0003],yMajor:[],yHideLabel:[0.0003],zero:true,fmt:macdFmt,
 texts:[{text:'\u00a9 2018 NinjaTrader, LLC',px:5,py:109,size:10.5}],
 ds:macdDs(-2.09,28.2,[0.0001,-0.0001],cad3MacdX,cad3Macd,cad3SignalX,cad3Signal,cad3Hist)});

/* ---------- window chrome ---------- */
function tri(x,y,dir,col,s){const d=box(x,y,0,0,'border-style:solid;border-color:transparent;');
 if(dir==='l'){d.style.borderWidth=`${s}px ${s}px ${s}px 0`;d.style.borderRightColor=col;}
 if(dir==='r'){d.style.borderWidth=`${s}px 0 ${s}px ${s}px`;d.style.borderLeftColor=col;}
 if(dir==='d'){d.style.borderWidth=`${s}px ${s}px 0 ${s}px`;d.style.borderTopColor=col;}}
function scroll(x0,x1,y,thumb){box(x0,y,x1-x0,14,'background:#3a3a3c;border:1px solid #222;');
 box(x0,y,10,14,'background:#000;');tri(x0+3,y+4,'l','#fff',3);
 box(x1-10,y,10,14,'background:#000;');tri(x1-7,y+4,'r','#fff',3);
 box(thumb,y+1,8,12,'background:#555;border:1px solid #777;');}
scroll(4,358,350,335);scroll(373,715,352,697);
function tab(x,y,name){box(x,y,74,25,'background:#1c1e20;border:1px solid #0a78d0;border-top:none;color:#0b6fc0;font:bold 12.5px '+FONT+';letter-spacing:.5px;line-height:24px;text-align:center;',name);
 box(x+74,y,23,22,'background:#3c3c42;color:#ddd;font:bold 19px '+FONT+';line-height:21px;text-align:center;','+');}
tab(23,364,'EURUSD');tab(392,366.5,'USDCAD');
box(339,2,17,18,'background:#2e3436;color:#c9c9c9;font:16px '+FONT+';line-height:18px;text-align:center;border:1px solid #555;','F');
function bar(shift,dy,x0,x1,name){
 box(x0,395+dy,x1-x0,30,'background:#333336;');
 box(x0,397+dy,x1-x0,24,'background:#4a4a4c;');
 const s=-shift;
 box(371+s,399+dy,49,22,'background:linear-gradient(#9a2020,#6a1010);overflow:hidden;');
 box(377+s,399+dy,50,22,'color:#f2f2f2;font:15px '+FONT+';line-height:22px;','Chart');
 box(437+s,400+dy,99,20,'background:#38383c;color:#c0c0c0;font:12px '+FONT+';line-height:20px;padding-left:6px;',name);
 box(521+s,404+dy,8,8,'border-right:2px solid #ccc;border-bottom:2px solid #ccc;transform:rotate(45deg) scale(.8);');
 box(547+s,403+dy,9,9,'border:2px solid #999;border-radius:50%;');
 box(546+s,411+dy,6,2.5,'background:#999;transform:rotate(-45deg);');
 tri(604+s,408+dy,'d','#ccc',4.5);
 box(621+s,403+dy,16,16,'background:linear-gradient(#bbb,#999);');box(640+s,403+dy,16,16,'background:linear-gradient(#bbb,#999);');
 box(660+s,403+dy,16,16,'border:1px solid #ddd;');box(664+s,414+dy,9,2,'background:#ddd;');
 box(679+s,403+dy,16,16,'border:1px solid #ddd;');box(682+s,406+dy,10,10,'border:1px solid #ddd;border-top:2px solid #ddd;');
 box(697+s,403+dy,16,16,'border:1px solid #ddd;color:#ddd;font:bold 14px '+FONT+';line-height:14px;text-align:center;','\u2715');
}
bar(388,-2,0,365,'EURUSD');
bar(0,0,371,717,'USDCAD');
</script>
</body></html>
